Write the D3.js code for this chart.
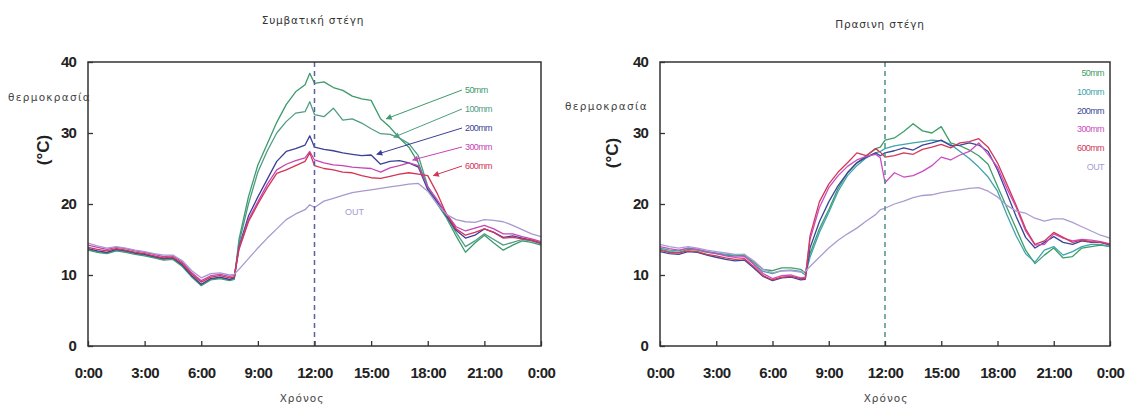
<!DOCTYPE html>
<html>
<head>
<meta charset="utf-8">
<script src="https://cdn.jsdelivr.net/npm/d3@7"></script>
<style>
  body { margin: 0; background: #fff; }
  svg { display: block; }
  .tick text { font-family: "Liberation Sans", Arial, sans-serif; font-weight: bold; }
</style>
</head>
<body>
<svg id="chart" width="1132" height="405"></svg>
<script>
// time of day in hours
const hours = [0, 0.5, 1, 1.5, 2, 2.5, 3, 3.5, 4, 4.5, 5, 5.5, 6, 6.5, 7, 7.5, 7.75,
  8, 8.5, 9, 9.5, 10, 10.5, 11, 11.5, 11.75,
  12, 12.5, 13, 13.5, 14, 14.5, 15, 15.5, 16, 16.5, 17, 17.5, 18, 18.5, 19, 19.5,
  20, 20.5, 21, 21.5, 22, 22.5, 23, 23.5, 24];

const seriesNames = ["50mm", "100mm", "200mm", "300mm", "600mm", "OUT"];
const timeTicks = [0, 3, 6, 9, 12, 15, 18, 21, 24];
const timeTickLabels = ["0:00", "3:00", "6:00", "9:00", "12:00", "15:00", "18:00", "21:00", "0:00"];
const tempTicks = [0, 10, 20, 30, 40];

// Συμβατική στέγη (conventional roof)
const conv50 = [13.5, 13.2, 13.0, 13.4, 13.2, 12.9, 12.7, 12.4, 12.1, 12.2, 11.2, 9.7, 8.5, 9.3, 9.5, 9.2, 9.4,
  15.0, 21.0, 25.5, 28.5, 31.5, 34.0, 35.8, 36.8, 38.4,
  37.0, 37.2, 36.4, 36.0, 35.2, 34.8, 34.6, 32.0, 30.8, 29.3, 28.0, 25.8, 22.3, 20.0, 18.0, 15.5,
  13.2, 14.5, 15.6, 14.5, 13.5, 14.2, 14.8, 14.6, 14.2];
const conv100 = [13.6, 13.3, 13.1, 13.5, 13.3, 13.0, 12.8, 12.5, 12.2, 12.3, 11.3, 9.8, 8.6, 9.4, 9.6, 9.3, 9.5,
  14.5, 20.0, 24.5, 27.5, 30.0, 31.6, 32.8, 33.0, 34.4,
  32.6, 32.3, 33.5, 31.8, 32.0, 31.4, 30.6, 29.9, 29.8, 29.3, 28.5, 26.8, 22.5, 20.3, 18.2, 16.0,
  14.0, 14.8, 15.8, 15.0, 14.2, 14.6, 15.0, 14.8, 14.4];
const conv200 = [13.7, 13.4, 13.2, 13.6, 13.4, 13.1, 12.9, 12.6, 12.3, 12.4, 11.4, 9.9, 8.7, 9.5, 9.7, 9.4, 9.6,
  14.0, 18.3, 21.0, 23.5, 26.0, 27.4, 27.8, 28.3, 29.6,
  28.0, 27.7, 27.5, 27.2, 27.0, 26.8, 26.9, 25.6, 26.0, 26.1, 25.8, 25.2, 22.0, 20.3, 18.3, 16.3,
  15.2, 15.6, 16.5, 16.0, 15.3, 15.5, 15.2, 14.9, 14.5];
const conv300 = [14.2, 13.9, 13.6, 13.9, 13.7, 13.4, 13.2, 12.9, 12.6, 12.7, 11.8, 10.3, 9.2, 9.9, 10.1, 9.8, 9.9,
  13.8, 17.8, 20.3, 22.8, 24.8, 25.6, 26.1, 26.5, 27.4,
  26.2, 25.8, 25.5, 25.4, 25.2, 25.1, 25.0, 24.5, 25.1, 25.4, 25.8, 25.4, 22.4, 20.6, 18.6, 16.8,
  16.2, 16.6, 17.0, 16.5, 15.8, 15.8, 15.4, 15.1, 14.7];
const conv600 = [13.9, 13.6, 13.4, 13.7, 13.5, 13.2, 13.0, 12.7, 12.4, 12.5, 11.6, 10.1, 9.0, 9.7, 9.9, 9.6, 9.7,
  13.6, 17.5, 20.0, 22.3, 24.3, 24.8, 25.4, 26.0, 27.2,
  25.4, 25.0, 24.8, 24.5, 24.4, 24.0, 23.7, 23.6, 23.9, 24.2, 24.4, 24.2, 24.0, 21.5, 18.5, 16.5,
  15.6, 16.0, 16.5, 16.0, 15.2, 15.3, 15.1, 14.9, 14.5];
const convOut = [14.5, 14.1, 13.8, 14.0, 13.8, 13.5, 13.3, 13.0, 12.8, 12.8, 12.0, 10.6, 9.6, 10.2, 10.3, 10.0, 10.1,
  10.8, 12.3, 13.8, 15.2, 16.5, 17.8, 18.6, 19.2, 19.9,
  19.5, 20.4, 20.8, 21.2, 21.6, 21.8, 22.0, 22.2, 22.4, 22.6, 22.8, 22.9, 21.8, 20.0, 18.5, 17.8,
  17.5, 17.4, 17.8, 17.7, 17.5, 17.0, 16.4, 15.8, 15.4];

// Πρασινη στέγη (green roof)
const green50 = [13.6, 13.3, 13.2, 13.6, 13.5, 13.2, 13.0, 12.8, 12.7, 12.8, 11.8, 10.8, 10.6, 11.0, 11.0, 10.8, 10.3,
  13.0, 16.5, 19.2, 22.2, 24.4, 25.8, 26.8, 27.8, 28.0,
  29.0, 29.3, 30.2, 31.3, 30.3, 30.0, 30.9, 28.6, 28.2, 27.6, 26.8, 25.6, 22.5, 19.5, 16.5, 13.5,
  11.6, 12.8, 13.8, 12.4, 12.6, 13.8, 14.0, 14.2, 14.0];
const green100 = [13.8, 13.5, 13.4, 13.8, 13.6, 13.3, 13.1, 12.9, 12.8, 12.9, 11.6, 10.5, 10.2, 10.6, 10.7, 10.5, 10.0,
  12.5, 16.0, 18.8, 21.8, 24.0, 25.4, 26.5, 27.2, 27.4,
  27.8, 28.2, 28.4, 28.6, 28.8, 29.0, 28.9, 28.4, 27.4, 26.4, 25.2, 23.8, 21.8, 18.5, 15.5, 13.0,
  11.8, 13.5, 14.0, 12.8, 13.3, 14.0, 14.3, 14.3, 14.0];
const green200 = [13.3, 13.0, 12.9, 13.3, 13.2, 12.8, 12.5, 12.2, 12.0, 12.1, 11.0, 9.8, 9.2, 9.6, 9.7, 9.3, 9.4,
  13.8, 17.5, 20.3, 22.6, 24.4, 25.8, 26.6, 27.2, 26.8,
  27.2, 27.5, 27.9, 27.6, 28.3, 28.6, 29.0, 28.2, 28.3, 28.6, 28.3, 27.4, 24.8, 21.5, 18.2, 15.3,
  13.8, 14.6, 15.4, 14.6, 14.3, 14.8, 14.6, 14.6, 14.2];
const green300 = [14.0, 13.7, 13.5, 13.8, 13.6, 13.3, 13.0, 12.7, 12.5, 12.6, 11.5, 10.2, 9.5, 9.9, 10.0, 9.6, 9.7,
  15.0, 19.5, 22.3, 24.0, 25.3, 26.2, 26.7, 27.0, 26.5,
  23.0, 24.4, 23.8, 24.0, 24.6, 25.4, 26.6, 26.2, 26.9, 27.4, 28.6, 27.0, 25.2, 22.2, 19.5, 16.2,
  14.2, 14.3, 15.8, 15.2, 14.8, 15.0, 14.9, 14.7, 14.4];
const green600 = [13.5, 13.2, 13.1, 13.4, 13.3, 12.9, 12.7, 12.4, 12.2, 12.3, 11.2, 9.9, 9.3, 9.7, 9.8, 9.5, 9.5,
  15.5, 20.3, 22.8, 24.5, 25.8, 27.2, 26.8, 27.8, 27.3,
  26.6, 26.8, 27.2, 27.0, 27.7, 28.0, 28.4, 27.9, 28.6, 28.8, 29.2, 28.0, 25.8, 22.8, 19.8, 16.5,
  14.3, 14.8, 16.0, 15.3, 14.6, 14.9, 14.7, 14.6, 14.3];
const greenOut = [14.3, 14.0, 13.8, 14.0, 13.8, 13.5, 13.3, 13.1, 12.9, 12.9, 12.0, 10.8, 10.3, 10.6, 10.6, 10.4, 10.5,
  11.2, 12.5, 13.8, 14.9, 15.8, 16.6, 17.6, 18.5, 19.2,
  19.4, 20.0, 20.4, 20.9, 21.2, 21.3, 21.6, 21.8, 22.0, 22.2, 22.3, 21.8, 21.0, 19.8, 19.0, 18.7,
  18.0, 17.6, 17.9, 17.9, 17.4, 16.8, 16.2, 15.6, 15.2];

const convColors = ["#3c9a6c", "#4f9c84", "#3b3f98", "#c645b4", "#d23558", "#a898d2"];
const greenColors = ["#3f9e68", "#3fa4ac", "#3a4596", "#cc4cc0", "#d03a5a", "#ab9cd0"];

const svg = d3.select("#chart");
svg.append("rect").attr("width", 1132).attr("height", 405).attr("fill", "#fff");

function drawPanel(opt) {
  const x = d3.scaleLinear().domain([0, 24]).range([opt.left, opt.right]);
  const y = d3.scaleLinear().domain([0, 40]).range([346, 62]);
  const g = svg.append("g");

  // curves
  const line = d3.line().x((d, i) => x(hours[i])).y(d => y(d)).curve(d3.curveLinear);
  opt.series.forEach((s, k) => {
    g.append("path").datum(s)
      .attr("d", line)
      .attr("fill", "none")
      .attr("stroke", opt.colors[k])
      .attr("stroke-width", 1.3)
      .attr("stroke-linejoin", "round");
  });

  // 12:00 dashed marker
  g.append("line")
    .attr("x1", x(12)).attr("x2", x(12))
    .attr("y1", y(40)).attr("y2", y(0))
    .attr("stroke", opt.dashColor)
    .attr("stroke-width", 1.5)
    .attr("stroke-dasharray", "5,4");

  // frame
  g.append("rect")
    .attr("x", x(0)).attr("y", y(40))
    .attr("width", x(24) - x(0)).attr("height", y(0) - y(40))
    .attr("fill", "none").attr("stroke", "#333").attr("stroke-width", 1.5);

  const xAxis = d3.axisBottom(x).tickValues(timeTicks)
    .tickFormat((d, i) => timeTickLabels[i]).tickSize(-5).tickPadding(21);
  const ax = g.append("g").attr("transform", `translate(0,${y(0)})`).call(xAxis);
  ax.select(".domain").remove();
  ax.selectAll(".tick line").attr("stroke", "#333").attr("stroke-width", 1.3);
  ax.selectAll(".tick text").attr("font-size", 15).attr("fill", "#222")
    .attr("letter-spacing", -0.6).attr("dy", "0.71em");

  const yAxis = d3.axisLeft(y).tickValues(tempTicks).tickSize(-5).tickPadding(12);
  const ay = g.append("g").attr("transform", `translate(${x(0)},0)`).call(yAxis);
  ay.select(".domain").remove();
  ay.selectAll(".tick line").attr("stroke", "#333").attr("stroke-width", 1.3);
  ay.selectAll(".tick text").attr("font-size", 15).attr("fill", "#222").attr("letter-spacing", -0.8);

  const lightFont = "'DejaVu Sans', sans-serif";
  g.append("text").attr("x", opt.titleX).attr("y", opt.titleY)
    .attr("text-anchor", "middle").attr("font-family", lightFont)
    .attr("font-size", 10.5).attr("letter-spacing", 0.8).attr("fill", "#333")
    .text(opt.title);
  g.append("text").attr("x", opt.thermoX).attr("y", opt.thermoY)
    .attr("font-family", lightFont).attr("font-size", 10.5)
    .attr("letter-spacing", 1.3).attr("fill", "#444")
    .text("θερμοκρασία");
  g.append("text")
    .attr("transform", `translate(${opt.unitX},${opt.unitY}) rotate(-90)`)
    .attr("text-anchor", "middle")
    .attr("font-family", "'Liberation Sans', Arial, sans-serif")
    .attr("font-weight", "bold").attr("font-size", 17).attr("fill", "#222")
    .text("(°C)");
  g.append("text").attr("x", opt.xLabelX).attr("y", 402)
    .attr("text-anchor", "middle").attr("font-family", lightFont)
    .attr("font-size", 10.5).attr("letter-spacing", 1).attr("fill", "#444")
    .text("Χρόνος");

  return { x, y, g };
}

// arrowhead
svg.append("defs").selectAll("marker")
  .data(convColors.slice(0, 5))
  .join("marker")
  .attr("id", (d, i) => "arr" + i)
  .attr("viewBox", "0 0 10 10").attr("refX", 9).attr("refY", 5)
  .attr("markerWidth", 7).attr("markerHeight", 6)
  .attr("markerUnits", "userSpaceOnUse")
  .attr("orient", "auto")
  .append("path").attr("d", "M0,0 L10,5 L0,10 z").attr("fill", d => d);

const left = drawPanel({
  left: 88, right: 541,
  series: [conv50, conv100, conv200, conv300, conv600, convOut],
  colors: convColors, dashColor: "#5b5f9e",
  title: "Συμβατική στέγη", titleX: 313, titleY: 24,
  thermoX: 8, thermoY: 101, unitX: 49, unitY: 150, xLabelX: 302
});

// legend with pointers, conventional roof
const convPointers = [[15.8, 32.0], [16.2, 29.4], [15.3, 27.0], [17.2, 26.2], [18.3, 24.0]];
seriesNames.slice(0, 5).forEach((name, k) => {
  const ly = 92 + k * 19;
  left.g.append("line")
    .attr("x1", 462).attr("y1", ly - 2)
    .attr("x2", left.x(convPointers[k][0])).attr("y2", left.y(convPointers[k][1]))
    .attr("stroke", convColors[k]).attr("stroke-width", 1)
    .attr("marker-end", `url(#arr${k})`);
  left.g.append("text").attr("x", 465).attr("y", ly + 1)
    .attr("font-family", "'Liberation Sans', Arial, sans-serif")
    .attr("font-size", 9).attr("letter-spacing", -0.6)
    .attr("fill", convColors[k]).text(name);
});
left.g.append("text").attr("x", 345).attr("y", 215)
  .attr("font-family", "'Liberation Sans', Arial, sans-serif")
  .attr("font-size", 9).attr("fill", convColors[5]).text("OUT");

const right = drawPanel({
  left: 660, right: 1110,
  series: [green50, green100, green200, green300, green600, greenOut],
  colors: greenColors, dashColor: "#4f8f8f",
  title: "Πρασινη στέγη", titleX: 880, titleY: 28,
  thermoX: 565, thermoY: 110, unitX: 618, unitY: 153, xLabelX: 886
});

seriesNames.forEach((name, k) => {
  right.g.append("text").attr("x", 1104).attr("y", 76 + k * 18.8)
    .attr("text-anchor", "end")
    .attr("font-family", "'Liberation Sans', Arial, sans-serif")
    .attr("font-size", 9).attr("letter-spacing", -0.6)
    .attr("fill", greenColors[k]).text(name);
});
</script>
</body>
</html>
